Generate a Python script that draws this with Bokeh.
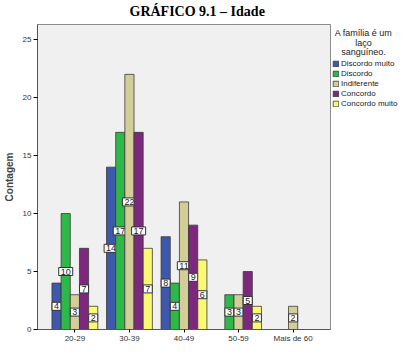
from bokeh.plotting import figure
from bokeh.layouts import row
from bokeh.models import (ColumnDataSource, Range1d, FixedTicker, Label,
                          Legend, LegendItem)
from bokeh.core.properties import value
from bokeh.embed import file_html
from bokeh.resources import INLINE

# Age groups and the agreement answers for "A família é um laço sanguíneo."
age_groups = ["20-29", "30-39", "40-49", "50-59", "Mais de 60"]
answers = ["Discordo muito", "Discordo", "Indiferente", "Concordo", "Concordo muito"]
colors = ["#3E58AC", "#2EB848", "#D3CE97", "#7C287D", "#FBF873"]
legend_title = ["A família é um", "laço", "sanguíneo."]

discordo_muito = [4, 14, 8, 0, 0]
discordo = [10, 17, 4, 3, 0]
indiferente = [3, 22, 11, 3, 2]
concordo = [7, 17, 9, 5, 0]
concordo_muito = [2, 7, 6, 2, 0]
counts = [discordo_muito, discordo, indiferente, concordo, concordo_muito]

BAR_W = 0.168
BAR_LINE = "#3A3A3A"

# ---- main bar chart ----
p = figure(width=331, height=354, output_backend="svg", toolbar_location=None,
           x_range=Range1d(-0.685, 4.685), y_range=Range1d(0, 26.3),
           min_border_left=32, min_border_right=1, min_border_top=23,
           min_border_bottom=25)
p.background_fill_color = "#F0F0F0"
p.border_fill_color = "white"
p.outline_line_color = "#8C8C8C"
p.outline_line_width = 1
p.xgrid.visible = False
p.ygrid.visible = False

p.title.text = "GRÁFICO 9.1 – Idade"
p.title.align = "left"
p.title.offset = 92
p.title.standoff = 7
p.title.vertical_align = "top"
p.title.text_font = "Liberation Serif"
p.title.text_font_style = "bold"
p.title.text_font_size = "14px"
p.title.text_color = "black"

for k, (name, col, vals) in enumerate(zip(answers, colors, counts)):
    xs, ys, tops, txt = [], [], [], []
    for i, v in enumerate(vals):
        if v > 0:
            xs.append(i + (k - 2) * BAR_W)
            tops.append(v)
            ys.append(v / 2)
            txt.append(str(v))
    src = ColumnDataSource(dict(x=xs, top=tops, y=ys, t=txt))
    p.vbar(x="x", top="top", width=BAR_W, bottom=0, source=src,
           fill_color=col, line_color=BAR_LINE, line_width=0.8)
    # value tag in a white box at half the bar height
    p.text(x="x", y="y", text="t", source=src,
           text_align="center", text_baseline="middle",
           text_font=value("Liberation Sans"), text_font_size="9px",
           text_color="#222222",
           background_fill_color="white",
           border_line_color="#333333", border_line_width=1,
           padding=(2, 1))

p.xaxis.ticker = FixedTicker(ticks=list(range(len(age_groups))))
p.xaxis.major_label_overrides = {i: g for i, g in enumerate(age_groups)}
p.xaxis.minor_tick_line_color = None
p.xaxis.major_tick_in = 0
p.xaxis.major_tick_out = 3
p.xaxis.major_label_standoff = 1
p.xaxis.major_label_text_font = "Liberation Sans"
p.xaxis.major_label_text_font_size = "8px"
p.xaxis.major_label_text_color = "#333333"
p.xaxis.axis_line_color = "#555555"

p.yaxis.ticker = FixedTicker(ticks=[0, 5, 10, 15, 20, 25])
p.yaxis.minor_tick_line_color = None
p.yaxis.major_tick_in = 0
p.yaxis.major_tick_out = 4
p.yaxis.major_label_standoff = 2
p.yaxis.major_label_text_font = "Liberation Sans"
p.yaxis.major_label_text_font_size = "8px"
p.yaxis.major_label_text_color = "#333333"
p.yaxis.axis_line_color = "#555555"
p.yaxis.axis_label = "Contagem"
p.yaxis.axis_label_text_font = "Liberation Sans"
p.yaxis.axis_label_text_font_style = "bold"
p.yaxis.axis_label_text_font_size = "10px"
p.yaxis.axis_label_standoff = 5

# ---- legend panel: its frame lines up with the chart frame, so the
# y range is set to run one unit per pixel over that height ----
q = figure(width=72, height=354, output_backend="svg", toolbar_location=None,
           x_range=Range1d(0, 72), y_range=Range1d(25, 331),
           min_border_left=0, min_border_right=0, min_border_top=23,
           min_border_bottom=25)
q.axis.visible = False
q.grid.visible = False
q.outline_line_color = None
q.background_fill_color = "white"
q.border_fill_color = "white"

for line, yv in zip(legend_title, [322, 312, 303]):
    q.add_layout(Label(x=32, y=yv, text=line, text_align="center",
                       text_baseline="middle", text_font="Liberation Sans",
                       text_font_size="9px", text_color="#222222"))

# swatch renderers carry only the legend styling (one undrawn NaN row each)
nan = float("nan")
swatches = [q.vbar(x=[nan], top=[nan], width=1, fill_color=c, line_color=BAR_LINE,
                   line_width=0.8) for c in colors]

legend = Legend(items=[LegendItem(label=a, renderers=[r])
                       for a, r in zip(answers, swatches)],
                location=(1, 221),
                glyph_width=7, glyph_height=7, label_height=8,
                label_standoff=2, spacing=1, padding=0, margin=0,
                label_text_font="Liberation Sans", label_text_font_size="8px",
                label_text_color="#222222",
                background_fill_alpha=0, border_line_alpha=0)
q.add_layout(legend)

layout = row(p, q, spacing=0)
open("out.html", "w").write(file_html(layout, INLINE))
